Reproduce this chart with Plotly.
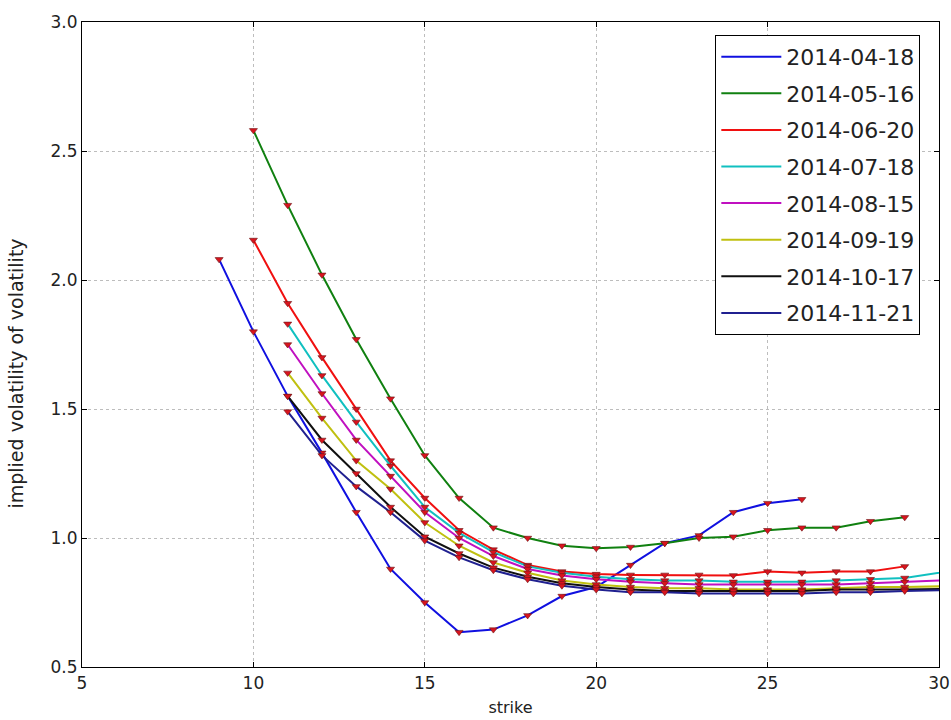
import plotly.graph_objects as go

# ---- data ----
labels = ["2014-04-18", "2014-05-16", "2014-06-20", "2014-07-18",
          "2014-08-15", "2014-09-19", "2014-10-17", "2014-11-21"]

x_0418 = list(range(9, 27))
v_0418 = [2.08, 1.80, 1.55, 1.33, 1.10, 0.88, 0.75, 0.635, 0.645, 0.70,
          0.775, 0.81, 0.895, 0.98, 1.01, 1.10, 1.135, 1.15]

x_0516 = list(range(10, 30))
v_0516 = [2.58, 2.29, 2.02, 1.77, 1.54, 1.32, 1.155, 1.04, 1.00, 0.97,
          0.96, 0.965, 0.98, 1.00, 1.005, 1.03, 1.04, 1.04, 1.065, 1.08]

x_0620 = list(range(10, 30))
v_0620 = [2.155, 1.91, 1.70, 1.50, 1.30, 1.155, 1.03, 0.955, 0.895, 0.87,
          0.86, 0.857, 0.857, 0.857, 0.855, 0.87, 0.865, 0.87, 0.87, 0.89]

x_long = list(range(11, 30)) + [31]
v_0718 = [1.83, 1.63, 1.45, 1.28, 1.12, 1.02, 0.945, 0.89, 0.865, 0.85,
          0.84, 0.835, 0.835, 0.83, 0.83, 0.83, 0.835, 0.84, 0.845, 0.885]
v_0815 = [1.75, 1.56, 1.38, 1.24, 1.10, 1.00, 0.93, 0.88, 0.855, 0.84,
          0.83, 0.825, 0.82, 0.82, 0.82, 0.82, 0.82, 0.825, 0.83, 0.84]
v_0919 = [1.64, 1.465, 1.30, 1.19, 1.06, 0.97, 0.905, 0.865, 0.835, 0.82,
          0.81, 0.805, 0.805, 0.80, 0.80, 0.80, 0.805, 0.81, 0.81, 0.815]
v_1017 = [1.55, 1.38, 1.25, 1.12, 1.005, 0.94, 0.885, 0.85, 0.825, 0.81,
          0.80, 0.795, 0.795, 0.795, 0.795, 0.795, 0.80, 0.80, 0.80, 0.805]
v_1121 = [1.49, 1.32, 1.20, 1.10, 0.99, 0.925, 0.875, 0.84, 0.815, 0.80,
          0.79, 0.79, 0.785, 0.785, 0.785, 0.785, 0.79, 0.79, 0.795, 0.80]

xs = [x_0418, x_0516, x_0620, x_long, x_long, x_long, x_long, x_long]
vs = [v_0418, v_0516, v_0620, v_0718, v_0815, v_0919, v_1017, v_1121]

x_ticks = [5, 10, 15, 20, 25, 30]
y_ticks = [0.5, 1.0, 1.5, 2.0, 2.5, 3.0]

colors = ["#1010e0", "#108010", "#f01010", "#10c0c0",
          "#c010c0", "#c0c010", "#101010", "#202090"]

fig = go.Figure()
for i, (lab, x, v) in enumerate(zip(labels, xs, vs)):
    fig.add_trace(go.Scatter(
        x=x, y=v, mode="lines", name=lab, legendgroup=lab,
        line=dict(color=colors[i], width=2), showlegend=True))
    fig.add_trace(go.Scatter(
        x=x, y=v, mode="markers", legendgroup=lab, showlegend=False,
        marker=dict(symbol="triangle-down", size=7, color="#d8141e",
                    line=dict(color="#6a1414", width=0.6)),
        cliponaxis=True))

tickfont = dict(family="DejaVu Sans", size=17, color="#222")
axis_common = dict(
    showline=True, linecolor="black", linewidth=1.2, mirror="allticks",
    ticks="inside", ticklen=5, tickcolor="black", automargin=False,
    showgrid=True, gridcolor="#bdbdbd", griddash="3px,3px", gridwidth=1,
    zeroline=False, tickfont=tickfont,
)

fig.update_xaxes(range=[5, 30], tickvals=x_ticks, ticktext=[str(t) for t in x_ticks],
                 title=dict(text="strike", font=dict(family="DejaVu Sans", size=16, color="#222"),
                            standoff=10),
                 **axis_common)
fig.update_yaxes(range=[0.5, 3.0], tickvals=y_ticks, ticktext=[f"{t:.1f}" for t in y_ticks],
                 **axis_common)

fig.add_annotation(
    text="implied volatility of volatility", textangle=-90,
    xref="paper", yref="paper", x=-0.077, y=0.455,
    xanchor="center", yanchor="middle", showarrow=False,
    font=dict(family="DejaVu Sans", size=19, color="#222"))

fig.update_layout(
    width=951, height=720,
    margin=dict(l=82, r=12, t=22, b=53, autoexpand=False),
    plot_bgcolor="white", paper_bgcolor="white",
    legend=dict(x=0.739, y=0.98, xanchor="left", yanchor="top",
                bgcolor="white", bordercolor="black", borderwidth=1,
                font=dict(family="DejaVu Sans", size=22, color="#222"),
                tracegroupgap=5, itemwidth=60),
    showlegend=True,
)

fig.write_html("out.html", config={"displayModeBar": False},
               post_script="document.body.style.margin='0';document.body.style.overflow='hidden';")
